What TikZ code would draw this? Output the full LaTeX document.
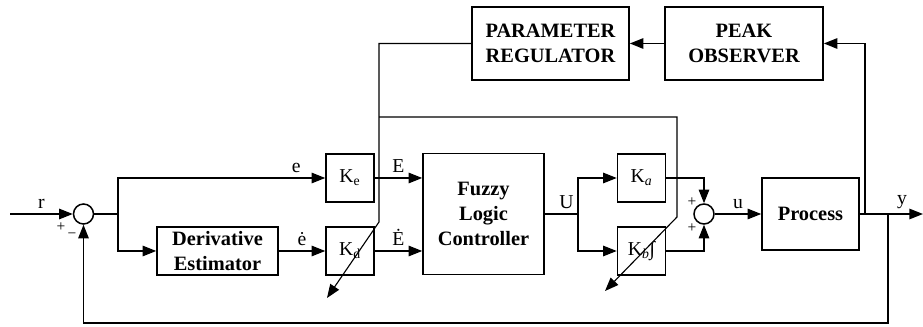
\documentclass[tikz,border=0pt]{standalone}
\usepackage{fontspec}
\setmainfont{Liberation Serif}
\usetikzlibrary{arrows.meta, positioning, calc}

\begin{document}
\begin{tikzpicture}[
    x=0.025cm, y=-0.025cm,
    font=\fontsize{14}{16}\selectfont,
    block/.style={rectangle, draw=black, line width=1.1pt, align=center, inner sep=2pt,
      font=\fontsize{14.5}{17.5}\selectfont\bfseries},
    gain/.style={rectangle, draw=black, line width=1.1pt, minimum width=1.2cm,
      minimum height=1.2cm, inner sep=0pt},
    sumpt/.style={circle, draw=black, line width=1.1pt, minimum size=0.5cm, inner sep=0pt},
    sig/.style={line width=1.1pt},
    arrow/.style={sig, -{Triangle[length=3.4mm, width=2.6mm]}},
    tune/.style={line width=0.8pt, -{Triangle[length=3.4mm, width=2.6mm]}},
    sgn/.style={font=\fontsize{11}{12}\selectfont, inner sep=0pt},
  ]
  \useasboundingbox (0,0) rectangle (923,327);

  \node[sumpt] (sum1) at (83.5,214) {};
  \node[block, minimum width=3.025cm, minimum height=1.2cm] (deriv) at (217.5,251) {Derivative\\Estimator};
  \node[gain] (ke) at (350,178) {K\textsubscript{e}};
  \node[gain] (kd) at (350,251) {K\textsubscript{d}};
  \node[block, minimum width=3.025cm, minimum height=3.025cm] (flc) at (483.5,214) {Fuzzy\\Logic\\Controller};
  \node[gain] (ka) at (641.5,178) {K\textsubscript{\itshape a}};
  \node[gain] (kb) at (641.5,251) {K\textsubscript{\itshape b}∫};
  \node[sumpt] (sum2) at (704,214) {};
  \node[block, minimum width=2.425cm, minimum height=1.8cm] (proc) at (810.5,214) {Process};
  \node[block, minimum width=3.95cm, minimum height=1.825cm] (peak) at (744,43.5) {PEAK\\OBSERVER};
  \node[block, minimum width=3.925cm, minimum height=1.825cm] (preg) at (550.5,43.5) {PARAMETER\\REGULATOR};

  \node[sgn] (s1p) at (61,227) {+};
  \node[sgn] (s1m) at (72,236) {−};
  \node[sgn] (s2a) at (692,202) {+};
  \node[sgn] (s2b) at (692,228) {+};

  \coordinate (rin) at (10,214);
  \coordinate (br1) at (118,214);
  \coordinate (br2) at (578,214);
  \coordinate (yout) at (923,214);
  \coordinate (tap1) at (865,214);
  \coordinate (tap2) at (888,214);
  \coordinate (fb) at (888,323);
  \coordinate (bendd) at (379,222);
  \coordinate (tipd) at (327,298);
  \coordinate (split) at (379,117);
  \coordinate (bendb) at (677,217);
  \coordinate (tipb) at (605,291);

  % main loop
  \draw[arrow] (rin) -- (sum1) node[midway, above] {r};
  \draw[sig] (sum1) -- (br1);
  \draw[arrow] (br1) |- (ke) node[pos=0.93, above] {e};
  \draw[arrow] (br1) |- (deriv);
  \draw[arrow] (deriv) -- (kd) node[midway, above] {ė};
  \draw[arrow] (ke) -- (ke -| flc.west) node[midway, above] {E};
  \draw[arrow] (kd) -- (kd -| flc.west) node[midway, above] {Ė};
  \draw[sig] (flc) -- (br2) node[pos=0.65, above] {U};
  \draw[arrow] (br2) |- (ka);
  \draw[arrow] (br2) |- (kb);
  \draw[arrow] (ka) -| (sum2);
  \draw[arrow] (kb) -| (sum2);
  \draw[arrow] (sum2) -- (proc) node[midway, above] {u};
  \draw[arrow] (proc) -- (yout) node[pos=0.67, above] {y};
  \draw[arrow] (tap2) -- (fb) -| (sum1);

  % adaptation
  \draw[arrow] (tap1) |- (peak);
  \draw[arrow] (peak) -- (preg);
  \draw[tune] (preg.west) -| (bendd) -- (tipd);
  \draw[tune] (split) -| (bendb) -- (tipb);
\end{tikzpicture}
\end{document}
